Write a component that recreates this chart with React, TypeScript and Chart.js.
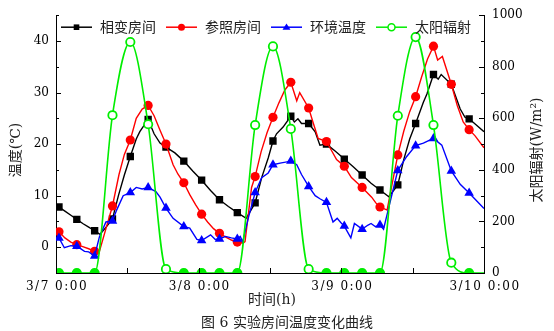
import React, { useEffect, useRef } from "react";
import { Chart, registerables } from "chart.js";

Chart.register(...registerables);

// ---- data (hours since 3/7 0:00) ----
const xTickHours = [0, 24, 48, 72];
const xTickLabels = ["3/7 0:00", "3/8 0:00", "3/9 0:00", "3/10 0:00"];
const tempTicks = [0, 10, 20, 30, 40];
const radTicks = [0, 200, 400, 600, 800, 1000];
const seriesNames = ["相变房间", "参照房间", "环境温度", "太阳辐射"];

const pcmRoom: [number, number][] = [
  [0.5, 7.8], [1.5, 7.0], [2.5, 6.2], [3.5, 5.4], [4.5, 4.6], [5.5, 3.9], [6.5, 3.2], [7.4, 2.5],
  [8.5, 4.0], [9.5, 5.5], [10.5, 10.0], [11.5, 14.0], [12.5, 17.6], [13.5, 21.0], [14.1, 22.4],
  [15.5, 24.8], [16.5, 22.0], [17.5, 20.2], [18.5, 19.4], [20.0, 18.3], [21.5, 16.7], [23.0, 14.8],
  [24.5, 13.0], [26.0, 11.0], [27.5, 9.2], [29.0, 7.9], [30.5, 6.7], [32.0, 5.6], [33.5, 8.6],
  [34.6, 13.5], [35.7, 17.3], [36.5, 20.6], [37.1, 22.0], [38.2, 23.3], [39.5, 25.4], [40.1, 24.3],
  [40.7, 24.9], [41.3, 24.0], [42.5, 24.0], [43.6, 22.4], [44.4, 19.8], [45.5, 20.0], [47.0, 18.6],
  [48.5, 17.1], [50.0, 15.6], [51.5, 14.0], [53.0, 12.4], [54.5, 11.1], [56.0, 9.8], [57.5, 12.1],
  [58.5, 17.0], [59.5, 21.0], [60.5, 24.0], [61.8, 28.1], [62.4, 29.7], [63.5, 33.5], [64.3, 32.6],
  [64.8, 33.5], [66.5, 31.6], [68.0, 26.8], [68.8, 25.2], [69.5, 24.9], [72.0, 22.4],
];

const refRoom: [number, number][] = [
  [0.5, 3.0], [1.5, 1.8], [2.5, 1.0], [3.5, 0.5], [4.5, 0.1], [5.5, -0.3], [6.5, -0.8], [7.2, -1.2],
  [8.5, 4.0], [9.5, 8.0], [10.6, 14.1], [11.5, 18.0], [12.5, 20.8], [13.5, 25.0], [14.5, 26.8],
  [15.5, 27.5], [16.5, 25.5], [17.5, 22.7], [18.5, 20.0], [19.7, 16.0], [20.5, 14.2], [21.5, 12.5],
  [22.5, 10.2], [23.5, 8.2], [24.5, 6.4], [25.5, 4.9], [26.5, 3.6], [27.5, 2.7], [28.5, 2.0],
  [29.5, 1.4], [30.5, 1.0], [31.5, 0.8], [31.8, 1.1], [32.9, 11.6], [33.5, 13.7], [34.5, 18.5],
  [35.5, 22.2], [36.5, 25.2], [37.5, 28.0], [38.5, 30.5], [39.5, 32.0], [40.5, 28.4], [41.0, 30.0],
  [42.5, 27.0], [43.3, 24.0], [44.1, 21.1], [45.5, 20.5], [47.2, 17.0], [48.5, 15.7], [49.7, 13.5],
  [51.5, 11.6], [53.1, 9.7], [53.8, 8.6], [54.5, 7.8], [55.7, 7.2], [56.5, 12.0], [57.5, 17.9],
  [58.5, 22.5], [59.5, 26.3], [60.5, 29.2], [61.5, 33.0], [62.5, 36.5], [63.5, 39.0], [64.2, 36.3],
  [65.0, 37.0], [66.5, 31.6], [67.5, 27.5], [68.5, 24.3], [69.5, 22.8], [70.5, 21.6], [72.0, 19.3],
];

const ambient: [number, number][] = [
  [0.5, 1.8], [1.4, -0.1], [2.5, 0.3], [3.5, 0.2], [4.8, -0.8], [5.5, -0.9], [6.5, -1.7], [7.3, 2.0],
  [8.4, 4.9], [9.5, 5.1], [10.2, 7.2], [11.3, 10.0], [12.5, 10.6], [13.5, 11.6], [14.5, 11.3],
  [15.5, 11.6], [16.8, 10.8], [17.5, 9.7], [18.5, 7.6], [19.7, 5.6], [21.5, 4.0], [22.5, 3.7],
  [23.7, 1.5], [24.5, 1.3], [26.0, 2.4], [26.8, 1.5], [27.5, 1.6], [28.5, 2.1], [29.5, 1.8],
  [30.5, 1.6], [31.0, 2.1], [31.4, 1.0], [32.4, 5.9], [33.5, 10.6], [34.6, 13.5], [35.7, 14.4],
  [36.5, 16.0], [37.7, 16.3], [39.5, 16.7], [40.5, 16.0], [41.3, 14.1], [42.5, 11.8], [43.6, 10.0],
  [44.4, 9.4], [45.5, 8.7], [46.6, 4.9], [47.3, 5.6], [47.9, 4.8], [48.5, 4.1], [49.6, 1.8],
  [50.2, 4.6], [51.5, 3.5], [52.5, 4.3], [53.0, 4.6], [53.7, 4.0], [54.5, 4.3], [55.1, 3.5],
  [55.6, 5.9], [57.5, 14.9], [59.0, 17.6], [60.5, 19.7], [61.8, 20.2], [63.5, 21.1], [64.9, 19.8],
  [66.5, 14.8], [68.0, 12.2], [69.5, 10.5], [72.0, 7.5],
];

const radHours = [0.5, 3.5, 6.5, 9.5, 12.5, 15.5, 18.5, 21.5, 24.5, 27.5, 30.5, 33.5, 36.5, 39.5, 42.5,
  45.5, 48.5, 51.5, 54.5, 57.5, 60.5, 63.5, 66.5, 69.5, 72.0];
const radValues = [0, 0, 0, 612, 896, 577, 15, 0, 0, 0, 0, 574, 879, 559, 15,
  0, 0, 0, 0, 610, 915, 574, 40, 0, 0];

// ---- helpers ----
const isMarker = (h: number) => {
  const k = (h - 0.5) / 3;
  return Math.abs(k - Math.round(k)) < 1e-6;
};
const toXY = (arr: [number, number][]) => arr.map(([x, y]) => ({ x, y }));

const COLORS = ["#000000", "#ff0000", "#0000ff", "#00ee00"];
const STYLES = ["rect", "circle", "triangle", "circle"];
const NUM_FONT = '"DejaVu Serif", "Liberation Serif", serif';
const CJK_FONT = '"DejaVu Serif", "Noto Sans CJK SC", sans-serif';

function drawMarker(ctx: CanvasRenderingContext2D, style: string, x: number, y: number, color: string, open: boolean) {
  ctx.save();
  ctx.fillStyle = color;
  ctx.strokeStyle = color;
  ctx.lineWidth = 1.5;
  ctx.beginPath();
  if (style === "rect") {
    ctx.rect(x - 2.8, y - 2.8, 5.6, 5.6);
    ctx.fill();
  } else if (style === "triangle") {
    ctx.moveTo(x, y - 3.8);
    ctx.lineTo(x + 4, y + 2.6);
    ctx.lineTo(x - 4, y + 2.6);
    ctx.closePath();
    ctx.fill();
  } else {
    ctx.arc(x, y, 3.5, 0, Math.PI * 2);
    if (open) {
      ctx.fillStyle = "#fff";
      ctx.fill();
      ctx.stroke();
    } else ctx.fill();
  }
  ctx.restore();
}

const decorPlugin = {
  id: "decor",
  afterDraw(chart: any) {
    const { ctx, chartArea: ca, scales } = chart;
    const xs = scales.x, yl = scales.y, yr = scales.y1;
    ctx.save();
    ctx.strokeStyle = "#000";
    ctx.lineWidth = 1;
    const seg = (x1: number, y1: number, x2: number, y2: number) => {
      ctx.beginPath(); ctx.moveTo(x1, y1); ctx.lineTo(x2, y2); ctx.stroke();
    };
    // inward tick marks
    for (let v = -5; v <= 45; v += 5) {
      const y = Math.round(yl.getPixelForValue(v)) + 0.5;
      seg(ca.left, y, ca.left + (v % 10 === 0 ? 5 : 3), y);
    }
    for (let v = 0; v <= 1000; v += 100) {
      const y = Math.round(yr.getPixelForValue(v)) + 0.5;
      seg(ca.right, y, ca.right - (v % 200 === 0 ? 5 : 3), y);
    }
    for (let h = 0; h <= 72; h += 12) {
      const x = Math.round(xs.getPixelForValue(h)) + 0.5;
      seg(x, ca.bottom, x, ca.bottom - 5);
    }
    // x tick labels
    ctx.fillStyle = "#000";
    ctx.font = `12px ${NUM_FONT}`;
    ctx.textAlign = "center";
    ctx.textBaseline = "middle";
    (ctx as any).letterSpacing = "1.5px";
    xTickHours.forEach((h, i) => {
      ctx.fillText(xTickLabels[i], xs.getPixelForValue(h) + 1, ca.bottom + 14);
    });
    (ctx as any).letterSpacing = "0px";

    // legend
    ctx.font = `14px ${CJK_FONT}`;
    ctx.textAlign = "left";
    let x = ca.left + 5;
    const ly = ca.top + 12;
    seriesNames.forEach((name, i) => {
      ctx.strokeStyle = COLORS[i];
      ctx.lineWidth = 1.5;
      seg(x, ly, x + 31, ly);
      drawMarker(ctx, STYLES[i], x + 15.5, ly, COLORS[i], i === 3);
      ctx.fillStyle = "#222";
      ctx.fillText(name, x + 39, ly + 1);
      x += 39 + ctx.measureText(name).width + 10;
    });

    // axis titles
    ctx.fillStyle = "#222";
    ctx.textAlign = "center";
    ctx.save();
    ctx.translate(16, 150);
    ctx.rotate(-Math.PI / 2);
    ctx.fillText("温度(℃)", 0, 0);
    ctx.restore();
    ctx.save();
    ctx.translate(537, 150);
    ctx.rotate(-Math.PI / 2);
    ctx.fillText("太阳辐射(W/m²)", 0, 0);
    ctx.restore();
    ctx.fillText("时间(h)", 272, 300);
    ctx.fillText("图 6 实验房间温度变化曲线", 287, 323);
    ctx.restore();
  },
};

export default function App() {
  const ref = useRef<HTMLCanvasElement | null>(null);
  useEffect(() => {
    document.body.style.margin = "0";
    const canvas = ref.current!;
    const mk = (r: number) => (c: any) => (c.raw && isMarker(c.raw.x) ? r : 0);
    const chart = new Chart(canvas, {
      type: "line",
      data: {
        datasets: [
          {
            label: seriesNames[0], data: toXY(pcmRoom), yAxisID: "y", order: 3,
            borderColor: COLORS[0], backgroundColor: COLORS[0], borderWidth: 1.4,
            pointStyle: "rect", pointRadius: mk(5.2), pointBorderWidth: 0, tension: 0,
          },
          {
            label: seriesNames[1], data: toXY(refRoom), yAxisID: "y", order: 2,
            borderColor: COLORS[1], backgroundColor: COLORS[1], borderWidth: 1.4,
            pointStyle: "circle", pointRadius: mk(4.6), pointBorderWidth: 0, tension: 0,
          },
          {
            label: seriesNames[2], data: toXY(ambient), yAxisID: "y", order: 1,
            borderColor: COLORS[2], backgroundColor: COLORS[2], borderWidth: 1.4,
            pointStyle: "triangle", pointRadius: mk(5.5), pointBorderWidth: 0, tension: 0,
          },
          {
            label: seriesNames[3],
            data: radHours.map((h, i) => ({ x: h, y: radValues[i] })),
            yAxisID: "y1", order: 0,
            borderColor: COLORS[3], borderWidth: 1.6,
            pointStyle: "circle", pointRadius: mk(4.2), pointBorderWidth: 1.8,
            pointBorderColor: COLORS[3],
            pointBackgroundColor: (c: any) => (c.raw && c.raw.y > 5 ? "#ffffff" : COLORS[3]),
            cubicInterpolationMode: "monotone",
          },
        ],
      },
      options: {
        responsive: false,
        animation: false,
        events: [],
        layout: { padding: { top: 11, left: 0, right: 0, bottom: 0 } },
        plugins: { legend: { display: false }, tooltip: { enabled: false }, title: { display: false } },
        scales: {
          x: {
            type: "linear", min: 0, max: 72,
            afterBuildTicks: (s: any) => { s.ticks = xTickHours.map((v) => ({ value: v })); },
            afterFit: (s: any) => { s.height = 58; },
            ticks: { display: false },
            grid: { display: false, drawTicks: false },
            border: { display: true, color: "#000", width: 1 },
          },
          y: {
            type: "linear", position: "left", min: -5, max: 45,
            afterBuildTicks: (s: any) => { s.ticks = tempTicks.map((v) => ({ value: v })); },
            afterFit: (s: any) => { s.width = 56; },
            ticks: { font: { family: NUM_FONT, size: 12 }, color: "#000", padding: 7, callback: (v: any) => String(v) },
            grid: { display: false, drawTicks: false },
            border: { display: true, color: "#000", width: 1 },
          },
          y1: {
            type: "linear", position: "right", min: 0, max: 1000,
            afterBuildTicks: (s: any) => { s.ticks = radTicks.map((v) => ({ value: v })); },
            afterFit: (s: any) => { s.width = 70; },
            ticks: { font: { family: NUM_FONT, size: 12 }, color: "#000", padding: 8, callback: (v: any) => String(v) },
            grid: { display: false, drawTicks: false },
            border: { display: true, color: "#000", width: 1 },
          },
        },
      },
      plugins: [decorPlugin],
    } as any);
    return () => chart.destroy();
  }, []);
  return (
    <div style={{ position: "absolute", left: 0, top: 0, width: 554, height: 331, background: "#fff" }}>
      <canvas ref={ref} width={554} height={331} style={{ display: "block" }} />
    </div>
  );
}
